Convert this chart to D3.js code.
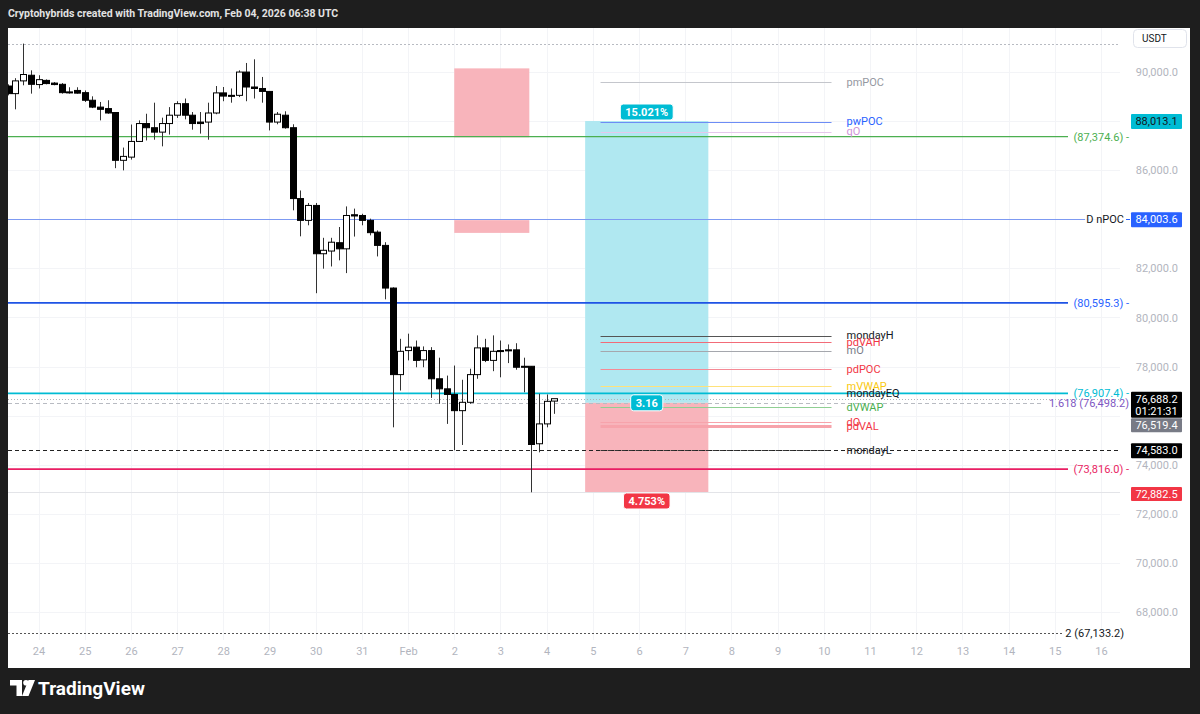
<!DOCTYPE html>
<meta charset="utf-8">
<style>
body { margin: 0; background: #1e1e1e; }
text { font-family: Roboto, "Noto Sans", sans-serif; }
</style>
<body>
<script src="https://d3js.org/d3.v7.min.js"></script>
<script>

// 4h candles, first bar Jan 23 08:00 UTC
var barStart = Date.UTC(2026, 0, 23, 8);
var barHours = 4;

var opens = [89440, 89130, 89650, 89880, 89500, 89670, 89560, 89510, 89200, 89260,
  89170, 88860, 88580, 88520, 88360, 86410, 86540, 87180, 87910, 87740,
  87560, 87910, 88250, 88720, 88250, 87970, 87970, 88340, 89160, 89060,
  89060, 90010, 89400, 89340, 89220, 87970, 88250, 87740, 84850, 83960,
  84570, 82600, 82710, 83050, 82800, 84190, 84160, 83960, 83480, 82940,
  81200, 77670, 78650, 78790, 78270, 78650, 77500, 77090, 76860, 76200,
  76540, 77670, 78760, 78250, 78650, 78680, 78680, 78010, 78010, 74850,
  75660, 76590];
var highs = [89510, 89760, 91170, 90080, 89880, 89710, 89600, 89560, 89390, 89390,
  89260, 89020, 88790, 88860, 88380, 86930, 87870, 88040, 88310, 88760,
  88150, 88580, 88820, 88930, 88380, 88380, 88760, 89440, 89400, 89340,
  90080, 90380, 90530, 89810, 89220, 88380, 88410, 87880, 85180, 84670,
  84670, 83250, 83250, 83690, 84530, 84440, 84230, 84030, 83550, 83070,
  81230, 79130, 79340, 79060, 78820, 78790, 78360, 77630, 78040, 77460,
  77910, 79270, 79130, 79270, 79060, 78900, 78950, 78360, 78010, 76890,
  76860, 76660];
var lows = [89060, 88490, 89470, 89130, 89340, 89510, 89470, 89130, 89130, 89130,
  88790, 88540, 88040, 88310, 86090, 86000, 86440, 87160, 87220, 87250,
  86980, 87460, 88140, 88080, 87660, 87500, 87250, 88290, 88820, 88760,
  88990, 88820, 88930, 88760, 87630, 87880, 87700, 84370, 83310, 83760,
  80990, 81990, 82080, 82330, 81810, 83300, 83760, 83350, 82490, 80740,
  75520, 77020, 78250, 77970, 77970, 76720, 76480, 75660, 74583, 74800,
  76480, 77500, 78180, 77810, 77560, 78140, 77870, 76950, 72870, 74500,
  75520, 76070];
var closes = [89130, 89650, 89910, 89510, 89700, 89540, 89500, 89170, 89180, 89150,
  88860, 88580, 88490, 88340, 86410, 86570, 87180, 87910, 87740, 87560,
  87910, 88250, 88720, 88250, 87910, 87910, 88340, 89160, 89030, 89020,
  90010, 89400, 89340, 89220, 87970, 88290, 87740, 84850, 83960, 84570,
  82600, 82740, 83070, 82800, 84160, 84140, 83960, 83460, 82940, 81200,
  77670, 78620, 78790, 78250, 78650, 77500, 77090, 76860, 76200, 76540,
  77670, 78760, 78250, 78620, 78630, 78660, 77970, 77970, 74820, 75660,
  76580, 76688.2];

var priceTicks = [68000, 70000, 72000, 74000, 76000, 78000, 80000, 82000, 84000, 86000, 88000, 90000];

// full width horizontal levels
var levelPrices = [87374.6, 80595.3, 76907.4, 73816.0];
var levelLabels = ["(87,374.6) -", "(80,595.3) -", "(76,907.4) -", "(73,816.0) -"];
var fibPrices = [91140, 76498.2, 67133.2];
var fibLabels = ["", "1.618 (76,498.2)", "2 (67,133.2)"];
var nPocPrice = 84003.6;

// session levels drawn Feb 5 04:00 -> Feb 10 04:00
var sessionNames = ["pmPOC", "pwPOC", "qO", "mondayH", "pdVAH", "mO", "pdPOC", "mVWAP", "mondayEQ", "dVWAP", "dO", "pdVAL", "mondayL"];
var sessionPrices = [89610, 87990, 87580, 79265, 78990, 78650, 77900, 77200, 76924, 76330, 75720, 75580, 74583];

// long position tool
var entryPrice = 76519.4, targetPrice = 88013.1, stopPrice = 72882.5;
var profitText = "15.021%", lossText = "4.753%", ratioText = "3.16";

// supply zones
var zoneTops = [90160, 83970];
var zoneBottoms = [87350, 83450];

var lastPrice = 76688.2, countdown = "01:21:31";

var lineColor = {
  pmPOC: "#c4c6cc", pwPOC: "#6d8cf5", qO: "#e6c7ec", mondayH: "#555", pdVAH: "#f26b78",
  mO: "#a5a7ad", pdPOC: "#f58a95", mVWAP: "#ffe27a", mondayEQ: "#9a9ca3", dVWAP: "#8fcf93",
  dO: "#f7a3ab", pdVAL: "#f7a3ab", mondayL: "#333"
};
var textColor = {
  pmPOC: "#9598a1", pwPOC: "#2962ff", qO: "#ce93d8", mondayH: "#131722", pdVAH: "#f23645",
  mO: "#787b86", pdPOC: "#f23645", mVWAP: "#f9c80e", mondayEQ: "#131722", dVWAP: "#4caf50",
  dO: "#f23645", pdVAL: "#f23645", mondayL: "#131722"
};
var levelColors = ["#4caf50", "#1e53e5", "#00bcd4", "#e91e63"];
var levelText = ["#4caf50", "#2962ff", "#00bcd4", "#e91e63"];

var W = 1200, H = 714;
var plot = {left: 8, right: 1120, top: 28, bottom: 640};

var svg = d3.select("body").append("svg")
    .attr("width", W)
    .attr("height", H)
    .style("display", "block");

svg.append("rect").attr("width", W).attr("height", H).attr("fill", "#1e1e1e");
svg.append("rect")
    .attr("x", 8).attr("y", 28).attr("width", 1182).attr("height", 640)
    .attr("fill", "#ffffff");

svg.append("text")
    .attr("x", 8).attr("y", 17)
    .attr("fill", "#e2e2e2")
    .style("font-size", "10.5px")
    .style("font-weight", 700)
    .text("Cryptohybrids created with TradingView.com, Feb 04, 2026 06:38 UTC");

// scales
var x = d3.scaleUtc()
    .domain([new Date(Date.UTC(2026, 0, 24)), new Date(Date.UTC(2026, 1, 16))])
    .range([38.5, 1101]);
var y = d3.scaleLinear()
    .domain([68000, 90000])
    .range([611.7, 72.3]);

var t = function(d, h) { return new Date(Date.UTC(2026, 0, d, h || 0)); };

svg.append("clipPath").attr("id", "clip")
  .append("rect")
    .attr("x", plot.left).attr("y", plot.top)
    .attr("width", plot.right - plot.left).attr("height", plot.bottom - plot.top);

var g = svg.append("g").attr("clip-path", "url(#clip)");

// grid
g.selectAll(".vgrid")
    .data(x.ticks(d3.utcDay.every(1)))
  .enter().append("line")
    .attr("x1", function(d) { return Math.round(x(d)) + 0.5; })
    .attr("x2", function(d) { return Math.round(x(d)) + 0.5; })
    .attr("y1", plot.top).attr("y2", plot.bottom)
    .attr("stroke", "#f3f4f7");
g.selectAll(".hgrid")
    .data(priceTicks)
  .enter().append("line")
    .attr("x1", plot.left).attr("x2", plot.right)
    .attr("y1", function(d) { return Math.round(y(d)) + 0.5; })
    .attr("y2", function(d) { return Math.round(y(d)) + 0.5; })
    .attr("stroke", "#f3f4f7");

// supply zones
g.selectAll(".zone")
    .data(zoneTops)
  .enter().append("rect")
    .attr("x", x(t(33, 0.5)))
    .attr("width", x(t(34, 15.5)) - x(t(33, 0.5)))
    .attr("y", function(d) { return y(d); })
    .attr("height", function(d, i) { return y(zoneBottoms[i]) - y(d); })
    .attr("fill", "#f8b4bb");

// position tool boxes
var px0 = x(t(35, 20)), px1 = x(t(38, 12));
g.append("rect")
    .attr("x", px0).attr("width", px1 - px0)
    .attr("y", y(targetPrice)).attr("height", y(entryPrice) - y(targetPrice))
    .attr("fill", "#b0e8f1");
g.append("rect")
    .attr("x", px0).attr("width", px1 - px0)
    .attr("y", y(entryPrice)).attr("height", y(stopPrice) - y(entryPrice))
    .attr("fill", "#f8b4bb");

// fib dotted / dashed lines
g.selectAll(".fib")
    .data(fibPrices)
  .enter().append("line")
    .attr("x1", plot.left)
    .attr("x2", function(d, i) { return i == 0 ? plot.right : (i == 1 ? 1044 : 1062); })
    .attr("y1", function(d) { return Math.round(y(d)) + 0.5; })
    .attr("y2", function(d) { return Math.round(y(d)) + 0.5; })
    .attr("stroke", function(d, i) { return i == 2 ? "#555" : "#b8bbc2"; })
    .attr("stroke-dasharray", function(d, i) { return i == 1 ? "4,3" : "2,2"; });

// faint line at stop
g.append("line")
    .attr("x1", plot.left).attr("x2", plot.right)
    .attr("y1", Math.round(y(stopPrice)) + 0.5).attr("y2", Math.round(y(stopPrice)) + 0.5)
    .attr("stroke", "#e3e4e8");

// current price dotted line
g.append("line")
    .attr("x1", plot.left).attr("x2", plot.right)
    .attr("y1", Math.round(y(lastPrice)) + 0.5).attr("y2", Math.round(y(lastPrice)) + 0.5)
    .attr("stroke", "#b0b3ba").attr("stroke-dasharray", "1,2");

// nPOC thin line
g.append("line")
    .attr("x1", plot.left).attr("x2", 1085)
    .attr("y1", Math.round(y(nPocPrice)) + 0.5).attr("y2", Math.round(y(nPocPrice)) + 0.5)
    .attr("stroke", "#7d9af2");

// mondayL dashed full width
g.append("line")
    .attr("x1", plot.left).attr("x2", plot.right)
    .attr("y1", Math.round(y(sessionPrices[12])) + 0.5).attr("y2", Math.round(y(sessionPrices[12])) + 0.5)
    .attr("stroke", "#222").attr("stroke-dasharray", "4,3");

// session lines
var sx0 = x(t(36, 4)), sx1 = x(t(41, 4));
g.selectAll(".sess")
    .data(sessionPrices)
  .enter().append("line")
    .attr("x1", sx0).attr("x2", sx1)
    .attr("y1", function(d) { return Math.round(y(d)) + 0.5; })
    .attr("y2", function(d) { return Math.round(y(d)) + 0.5; })
    .attr("stroke", function(d, i) { return lineColor[sessionNames[i]]; })
    .attr("stroke-width", function(d, i) { return sessionNames[i] == "pdVAL" ? 3 : 1; })
    .attr("stroke-dasharray", function(d, i) { return sessionNames[i] == "mondayL" ? "4,3" : null; });

// full width levels
g.selectAll(".lvl")
    .data(levelPrices)
  .enter().append("line")
    .attr("x1", plot.left).attr("x2", 1068)
    .attr("y1", function(d) { return y(d); })
    .attr("y2", function(d) { return y(d); })
    .attr("stroke", function(d, i) { return levelColors[i]; })
    .attr("stroke-width", function(d, i) { return i == 0 ? 1.4 : 1.8; });

// candles
var bars = opens.map(function(o, i) {
  return {t: new Date(barStart + i * barHours * 3600e3), o: o, h: highs[i], l: lows[i], c: closes[i]};
});
var candle = g.selectAll(".candle")
    .data(bars)
  .enter().append("g");
candle.append("line")
    .attr("x1", function(d) { return Math.round(x(d.t)) + 0.5; })
    .attr("x2", function(d) { return Math.round(x(d.t)) + 0.5; })
    .attr("y1", function(d) { return y(d.h); })
    .attr("y2", function(d) { return y(d.l); })
    .attr("stroke", "#333");
candle.append("rect")
    .attr("x", function(d) { return Math.round(x(d.t)) - 2.5; })
    .attr("width", 6)
    .attr("y", function(d) { return y(Math.max(d.o, d.c)); })
    .attr("height", function(d) { return Math.max(1, Math.abs(y(d.o) - y(d.c))); })
    .attr("fill", function(d) { return d.c >= d.o ? "#fff" : "#000"; })
    .attr("stroke", "#000");

// session labels (they overlap in the original too)
svg.selectAll(".slab")
    .data(sessionNames)
  .enter().append("text")
    .attr("x", sx1 + 15)
    .attr("y", function(d, i) { return y(sessionPrices[i]); })
    .attr("dy", "0.35em")
    .attr("fill", function(d) { return textColor[d]; })
    .style("font-size", "11px")
    .text(function(d) { return d; });

// level labels on right
svg.selectAll(".llab")
    .data(levelLabels)
  .enter().append("text")
    .attr("x", 1129)
    .attr("y", function(d, i) { return y(levelPrices[i]); })
    .attr("dy", "0.35em")
    .attr("text-anchor", "end")
    .attr("fill", function(d, i) { return levelText[i]; })
    .style("font-size", "11px")
    .text(function(d) { return d; });

svg.selectAll(".flab")
    .data(fibLabels)
  .enter().append("text")
    .attr("x", function(d, i) { return i == 2 ? 1124 : 1129; })
    .attr("y", function(d, i) { return y(fibPrices[i]); })
    .attr("dy", "0.35em")
    .attr("text-anchor", "end")
    .attr("fill", function(d, i) { return i == 1 ? "#7e57c2" : "#131722"; })
    .style("font-size", "11px")
    .text(function(d) { return d; });

svg.append("text")
    .attr("x", 1124).attr("y", y(nPocPrice)).attr("dy", "0.35em")
    .attr("text-anchor", "end").attr("fill", "#131722")
    .style("font-size", "11px")
    .text("D nPOC");
svg.append("line")
    .attr("x1", 1126).attr("x2", 1130)
    .attr("y1", Math.round(y(nPocPrice)) + 0.5).attr("y2", Math.round(y(nPocPrice)) + 0.5)
    .attr("stroke", "#2962ff");

// position labels
function pill(cx, cy, txt, bg) {
  var lbl = svg.append("text")
      .attr("x", cx).attr("y", cy).attr("dy", "0.35em")
      .attr("text-anchor", "middle").attr("fill", "#fff")
      .style("font-size", "11px").style("font-weight", 700)
      .text(txt);
  var w = lbl.node().getComputedTextLength() + 10;
  svg.insert("rect", function() { return lbl.node(); })
      .attr("x", cx - w / 2).attr("y", cy - 8).attr("width", w).attr("height", 16)
      .attr("rx", 3).attr("fill", bg).attr("stroke", "#fff").attr("stroke-width", 1);
}
var pcx = (px0 + px1) / 2;
pill(pcx, y(targetPrice) - 9, profitText, "#00bcd4");
pill(pcx, y(entryPrice), ratioText, "#00bcd4");
pill(pcx, y(stopPrice) + 9, lossText, "#f23645");

// price axis
var badgeYs = [y(targetPrice), y(nPocPrice), y(lastPrice), y(lastPrice) + 26, y(sessionPrices[12]), y(stopPrice)];
var yAxis = svg.append("g")
    .attr("transform", "translate(1181,0)")
    .call(d3.axisLeft(y)
      .tickValues(priceTicks.filter(function(p) {
        return !badgeYs.some(function(b) { return Math.abs(b - y(p)) < 13; });
      }))
      .tickFormat(d3.format(",.1f"))
      .tickSize(0).tickPadding(3));
yAxis.select(".domain").remove();
yAxis.selectAll("text").attr("fill", "#b2b5be").style("font-size", "11px").style("font-family", "Roboto, sans-serif");

// price badges
function badge(cy, h, lines, bg, fg) {
  svg.append("rect")
      .attr("x", 1131).attr("y", cy - 7).attr("width", 51).attr("height", h)
      .attr("rx", 1).attr("fill", bg);
  lines.forEach(function(s, i) {
    svg.append("text")
        .attr("x", 1156.5).attr("y", cy + i * 12).attr("dy", "0.35em")
        .attr("text-anchor", "middle").attr("fill", fg)
        .style("font-size", "11px")
        .text(s);
  });
}
badge(y(targetPrice), 15, [d3.format(",.1f")(targetPrice)], "#00bcd4", "#131722");
badge(y(nPocPrice), 15, [d3.format(",.1f")(nPocPrice)], "#2962ff", "#fff");
badge(y(lastPrice), 26, [d3.format(",.1f")(lastPrice), countdown], "#000", "#fff");
badge(y(lastPrice) + 26.5, 14, [d3.format(",.1f")(entryPrice)], "#787b86", "#fff");
badge(y(sessionPrices[12]), 15, [d3.format(",.1f")(sessionPrices[12])], "#000", "#fff");
badge(y(stopPrice) + 2, 14, [d3.format(",.1f")(stopPrice)], "#f23645", "#fff");

// USDT box
svg.append("rect")
    .attr("x", 1133.5).attr("y", 29.5).attr("width", 53).attr("height", 18)
    .attr("rx", 4).attr("fill", "#fff").attr("stroke", "#e0e3eb");
svg.append("text")
    .attr("x", 1142).attr("y", 38.5).attr("dy", "0.35em")
    .attr("fill", "#131722").style("font-size", "10px")
    .text("USDT");

// time axis
var xAxis = svg.append("g")
    .attr("transform", "translate(0," + plot.bottom + ")")
    .call(d3.axisBottom(x)
      .ticks(d3.utcDay.every(1))
      .tickFormat(function(d) { return d.getUTCDate() == 1 ? "Feb" : d.getUTCDate(); })
      .tickSize(0).tickPadding(7));
xAxis.select(".domain").remove();
xAxis.selectAll("text").attr("fill", "#b2b5be").style("font-size", "11px").style("font-family", "Roboto, sans-serif");

// TradingView logo
var logo = svg.append("g").attr("transform", "translate(10,680)").attr("fill", "#fff");
logo.append("path").attr("d", "M0,0 H12 V16 H6.5 V5.5 H0 Z");
logo.append("circle").attr("cx", 16).attr("cy", 2.8).attr("r", 2.8);
logo.append("path").attr("d", "M18.5,0 H25 L18.5,16 H12 Z");
svg.append("text")
    .attr("x", 38).attr("y", 695)
    .attr("fill", "#fff")
    .style("font-size", "19px").style("font-weight", 700)
    .text("TradingView");

</script>
</body>
